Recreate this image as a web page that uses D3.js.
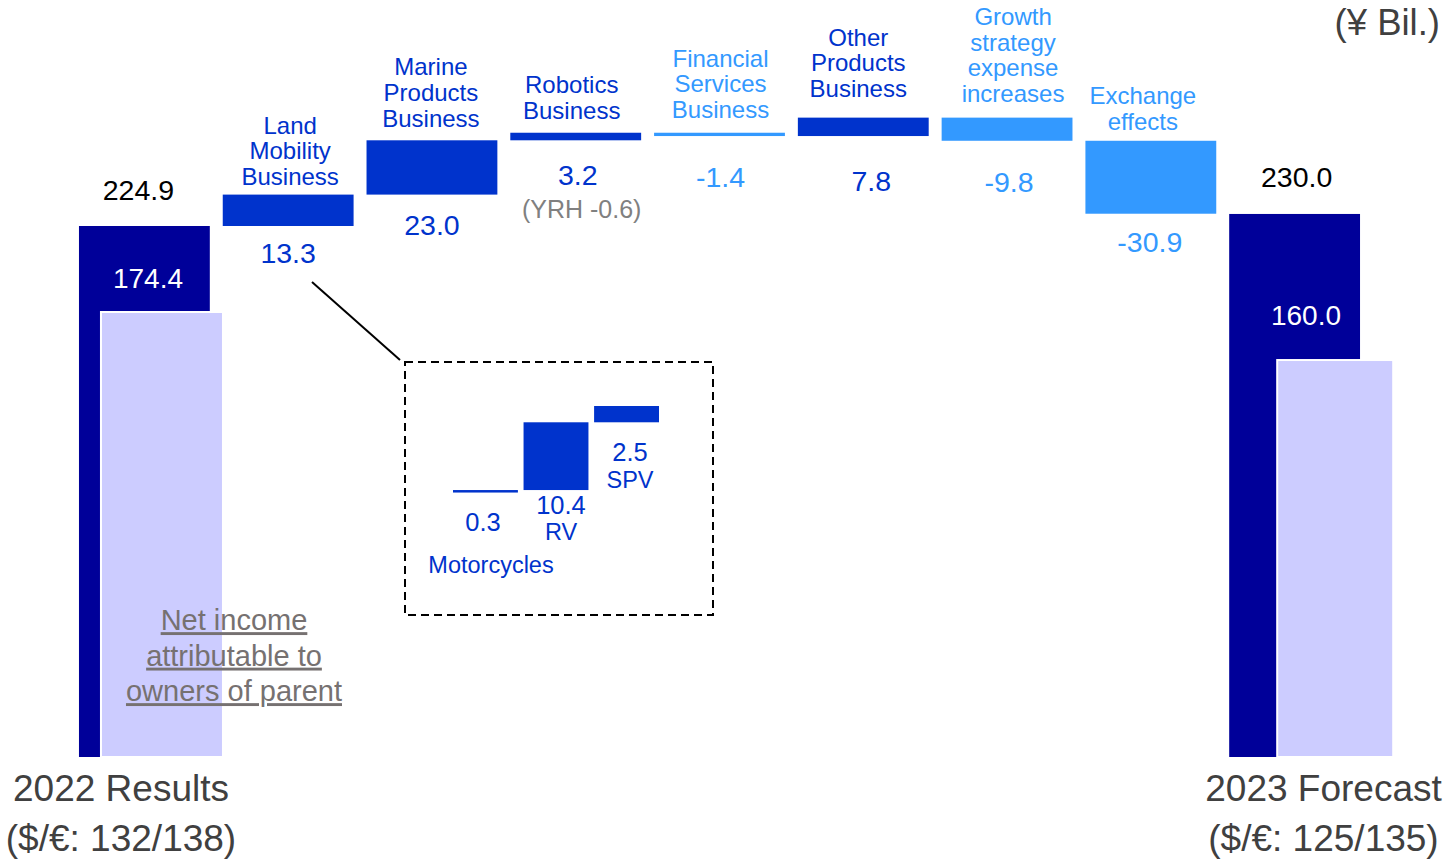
<!DOCTYPE html>
<html><head><meta charset="utf-8">
<script src="https://cdn.jsdelivr.net/npm/d3@7"></script>
<style>
html,body{margin:0;padding:0;background:#fff;}
svg{display:block;font-family:"Liberation Sans",Arial,sans-serif;}
</style></head>
<body><svg id="chart" width="1453" height="859"></svg>
<script>
// ---------- DATA ----------
const categories = ["2022 Results","Land Mobility Business","Marine Products Business","Robotics Business","Financial Services Business","Other Products Business","Growth strategy expense increases","Exchange effects","2023 Forecast"];
const categoryLines = [[],["Land","Mobility","Business"],["Marine","Products","Business"],["Robotics","Business"],["Financial","Services","Business"],["Other","Products","Business"],["Growth","strategy","expense","increases"],["Exchange","effects"],[]];
const values = [224.9, 13.3, 23.0, 3.2, -1.4, 7.8, -9.8, -30.9, 230.0];
const kinds = ["total","inc","inc","inc","dec","inc","dec","dec","total"];
const valueLabels = ["224.9","13.3","23.0","3.2","-1.4","7.8","-9.8","-30.9","230.0"];
const totalNames = [["2022 Results","($/€: 132/138)"],["2023 Forecast","($/€: 125/135)"]];
const netIncome = [174.4, 160.0];
const netIncomeLabels = ["174.4","160.0"];
const netIncomeNote = ["Net income","attributable to","owners of parent"];
const roboticsNote = "(YRH -0.6)";
const unitLabel = "(¥ Bil.)";
const insetCategories = ["Motorcycles","RV","SPV"];
const insetValues = [0.3, 10.4, 2.5];
const insetLabels = ["0.3","10.4","2.5"];

// ---------- STYLE / LAYOUT ----------
const C = {total:"#000099", inc:"#0033CC", dec:"#3399FF", net:"#CCCCFF", gray:"#404040", note:"#767171", yrh:"#808080"};
const FONT = {val:29, cat:24, big:37};
const svg = d3.select("#chart");

const x = d3.scaleBand().domain(categories).range([72.5,1366.5]).paddingInner(0.09).paddingOuter(0.045);
const y = d3.scaleLinear().domain([0,224.9]).range([757,226]);
const yNet = d3.scaleLinear().domain([41,174.4]).range([757,312]);

// compute waterfall
let run = 0;
const bars = values.map((v,i)=>{
  let y0,y1;
  if(kinds[i]==="total"){ y0=0; y1=v; run=v; }
  else { y0=run; y1=run+v; run=y1; }
  return {cat:categories[i], v, kind:kinds[i], lo:Math.min(y0,y1), hi:Math.max(y0,y1), i};
});

const totalBars = bars.filter(b=>b.kind==="total");
const netOffsets = [[22,122],[48,116]];

svg.append("g").selectAll("rect").data(bars).join("rect")
  .attr("x",d=>x(d.cat)).attr("width",x.bandwidth())
  .attr("y",d=>y(d.hi)).attr("height",d=>Math.max(1.5,y(d.lo)-y(d.hi)))
  .attr("fill",d=>C[d.kind]);

svg.append("g").selectAll("rect").data(totalBars).join("rect")
  .attr("x",(d,i)=>x(d.cat)+netOffsets[i][0]).attr("width",(d,i)=>netOffsets[i][1])
  .attr("y",(d,i)=>yNet(netIncome[i])).attr("height",(d,i)=>757-yNet(netIncome[i]))
  .attr("fill",C.net).attr("stroke","#fff").attr("stroke-width",2);

// net income values (white)
const netLblPos = [[148,278],[1306,315]];
svg.append("g").selectAll("text").data(netIncomeLabels).join("text")
  .attr("x",(d,i)=>netLblPos[i][0]).attr("y",(d,i)=>netLblPos[i][1]).attr("dy","0.35em")
  .attr("text-anchor","middle").attr("fill","#fff").attr("font-size",28).text(d=>d);

// value labels
const valPos = [[-6,-36],[0,27],[0,30],[2,35],[1,41],[8,45],[2,41],[-1,28],[2,-37]];
svg.append("g").selectAll("text").data(bars).join("text")
  .attr("x",d=>x(d.cat)+x.bandwidth()/2+valPos[d.i][0])
  .attr("y",d=> d.kind==="total" ? y(d.hi)+valPos[d.i][1] : y(d.lo)+valPos[d.i][1])
  .attr("dy","0.35em").attr("text-anchor","middle").attr("font-size",FONT.val-0.5)
  .attr("fill",d=>d.kind==="total"?"#000":C[d.kind]).text(d=>valueLabels[d.i]);

// category labels
const catGap = [0,18,22,22,23,29,24,19,0];
const catDx = [0,2,-1,-4,1,-5,6,-8,0];
const lh = 25.7;
bars.forEach(b=>{
  const lines = categoryLines[b.i]; if(!lines.length) return;
  const lastY = y(b.hi) - catGap[b.i];
  const t = svg.append("text").attr("text-anchor","middle").attr("font-size",FONT.cat)
    .attr("fill", b.kind==="dec"? C.dec : C.inc);
  lines.forEach((ln,k)=>{
    t.append("tspan").attr("x",x(b.cat)+x.bandwidth()/2+catDx[b.i])
      .attr("y", lastY - (lines.length-1-k)*lh).attr("dy","0.35em").text(ln);
  });
});

// YRH note
const rob = bars[3];
svg.append("text").attr("x",x(rob.cat)+x.bandwidth()/2+6).attr("y",y(rob.lo)+69).attr("dy","0.35em")
  .attr("text-anchor","middle").attr("font-size",25).attr("fill",C.yrh).text(roboticsNote);

// unit label
svg.append("text").attr("x",1440).attr("y",22).attr("dy","0.35em").attr("text-anchor","end")
  .attr("font-size",36.5).attr("fill",C.gray).text(unitLabel);

// bottom total names
const totalNameX = [121,1323.5];
totalNames.forEach((nm,i)=>{
  nm.forEach((ln,k)=>{
    svg.append("text").attr("x",totalNameX[i]).attr("y",788+k*50).attr("dy","0.35em")
      .attr("text-anchor","middle").attr("font-size",FONT.big).attr("fill",C.gray).text(ln);
  });
});

// net income note (underlined)
netIncomeNote.forEach((ln,k)=>{
  svg.append("text").attr("x",234).attr("y",620+k*35.5).attr("dy","0.35em")
    .attr("text-anchor","middle").attr("font-size",29).attr("fill",C.note)
    .attr("text-decoration","underline").text(ln);
});

// ---------- INSET ----------
const xi = d3.scaleBand().domain(insetCategories).range([453,659]).paddingInner(0.08).paddingOuter(0.0);
const yi = d3.scaleLinear().domain([0,13.2]).range([492,406]);
let r2 = 0;
const ibars = insetValues.map((v,i)=>{ const lo=r2; r2+=v; return {cat:insetCategories[i],lo,hi:r2,i}; });
svg.append("rect").attr("x",405).attr("y",362).attr("width",308).attr("height",253)
  .attr("fill","none").attr("stroke","#000").attr("stroke-width",2).attr("stroke-dasharray","8,5");
svg.append("line").attr("x1",312).attr("y1",282).attr("x2",400).attr("y2",360)
  .attr("stroke","#000").attr("stroke-width",2);
svg.append("g").selectAll("rect").data(ibars).join("rect")
  .attr("x",d=>xi(d.cat)).attr("width",xi.bandwidth())
  .attr("y",d=>yi(d.hi)).attr("height",d=>Math.max(2.5,yi(d.lo)-yi(d.hi)))
  .attr("fill",C.inc);
const insetValPos = [[483,522],[561,505],[630,452]];
const insetNamePos = [[491,565],[561,532],[630,480]];
insetLabels.forEach((l,i)=>{
  svg.append("text").attr("x",insetValPos[i][0]).attr("y",insetValPos[i][1]).attr("dy","0.35em")
    .attr("text-anchor","middle").attr("font-size",25.5).attr("fill",C.inc).text(l);
  svg.append("text").attr("x",insetNamePos[i][0]).attr("y",insetNamePos[i][1]).attr("dy","0.35em")
    .attr("text-anchor","middle").attr("font-size",23.5).attr("fill",C.inc).text(insetCategories[i]);
});
</script></body></html>
